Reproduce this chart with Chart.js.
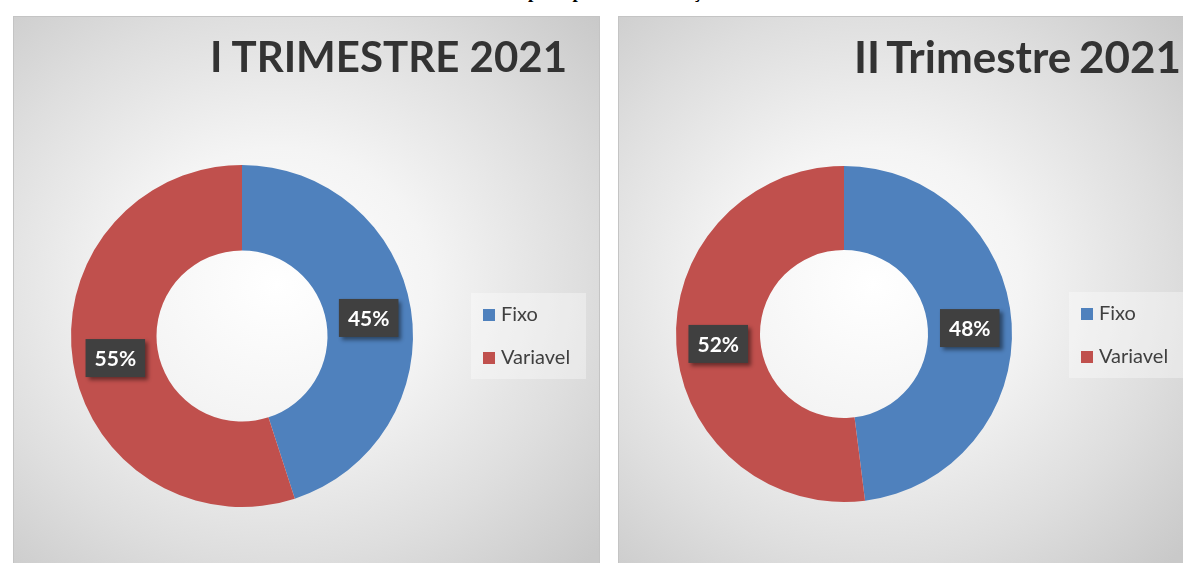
<!DOCTYPE html>
<html>
<head>
<meta charset="utf-8">
<script src="https://cdn.jsdelivr.net/npm/chart.js@4.4.0/dist/chart.umd.min.js"></script>
<style>
  body { margin: 0; width: 1183px; height: 563px; overflow: hidden; background: #fff; position: relative; font-family: Lato, "Open Sans", sans-serif; }
  .caption { position: absolute; left: 0; top: -19px; width: 1183px; text-align: center; font: bold 19px "Liberation Serif", serif; color: #000; white-space: nowrap; }
  .panel { position: absolute; top: 16px; height: 560px; border: 1px solid #c4c4c4; box-sizing: border-box;
           background: radial-gradient(ellipse 75% 70% at 45% 48%, #ffffff 0%, #f4f4f4 35%, #dedede 70%, #c9c9c9 100%); }
  .panel canvas { position: absolute; left: 0; top: 0; }
  .title { position: absolute; top: 14px; font-weight: bold; font-size: 42px; color: #333; white-space: nowrap; }
  .legend { position: absolute; background: rgba(255,255,255,0.35); width: 115px; height: 86px; font-size: 20px; color: #404040; }
  .legend div { position: absolute; left: 12px; height: 22px; line-height: 22px; }
  .legend span { display: inline-block; width: 12px; height: 12px; margin-right: 6px; vertical-align: 0px; }
</style>
</head>
<body>
<div class="caption">Gráfico 7: Custos fixos e variáveis por tipo de manutenção no I e II trimestre de 2021</div>

<div class="panel" id="p1" style="left:13px; width:587px;">
  <canvas id="c1" width="587" height="560"></canvas>
  <div class="title" style="right:32px;">I TRIMESTRE 2021</div>
  <div class="legend" id="l1" style="left:457px; top:276px;"></div>
</div>
<div class="panel" id="p2" style="left:618px; width:566px;">
  <canvas id="c2" width="566" height="560"></canvas>
  <div class="title" style="right:2px; top:13px; font-size:44px; word-spacing:-3px;">II Trimestre 2021</div>
  <div class="legend" id="l2" style="left:450px; top:275px;"></div>
</div>

<script>
const labels = ['Fixo', 'Variavel'];
const colors = ['#4F81BD', '#C0504D'];
const trim1 = [45, 55];
const trim2 = [48, 52];

// percent boxes drawn at the middle of each slice
const boxLabels = {
  id: 'boxLabels',
  afterDatasetsDraw(chart) {
    const ctx = chart.ctx;
    const ds = chart.data.datasets[0];
    const total = ds.data.reduce((a, b) => a + b, 0);
    chart.getDatasetMeta(0).data.forEach((arc, i) => {
      const pos = arc.tooltipPosition();
      const text = Math.round(ds.data[i] / total * 100) + '%';
      ctx.save();
      ctx.font = 'bold 21px Lato';
      const w = ctx.measureText(text).width + 18;
      const h = 38;
      const x = pos.x - w / 2, y = pos.y - h / 2 + 2;
      ctx.shadowColor = 'rgba(0,0,0,0.45)';
      ctx.shadowOffsetX = 3;
      ctx.shadowOffsetY = 3;
      ctx.shadowBlur = 4;
      ctx.fillStyle = '#404040';
      ctx.fillRect(x, y, w, h);
      ctx.shadowColor = 'transparent';
      ctx.fillStyle = '#fff';
      ctx.textAlign = 'center';
      ctx.textBaseline = 'middle';
      ctx.fillText(text, pos.x, y + h / 2 + 1);
      ctx.restore();
    });
  }
};

function makeChart(id, values, padding) {
  new Chart(document.getElementById(id), {
    type: 'doughnut',
    data: {
      labels: labels,
      datasets: [{ data: values, backgroundColor: colors, borderWidth: 0 }]
    },
    options: {
      responsive: false,
      animation: false,
      cutout: '50%',
      layout: { padding: padding },
      plugins: { legend: { display: false }, tooltip: { enabled: false } }
    },
    plugins: [boxLabels]
  });
}

function makeLegend(id) {
  const el = document.getElementById(id);
  labels.forEach((name, i) => {
    const d = document.createElement('div');
    d.style.top = (i === 0 ? 9 : 52) + 'px';
    d.innerHTML = '<span style="background:' + colors[i] + '"></span>' + name;
    el.appendChild(d);
  });
}

makeChart('c1', trim1, { left: 57, right: 188, top: 148, bottom: 70 });
makeChart('c2', trim2, { left: 57, right: 173, top: 149, bottom: 75 });
makeLegend('l1');
makeLegend('l2');
</script>
</body>
</html>
